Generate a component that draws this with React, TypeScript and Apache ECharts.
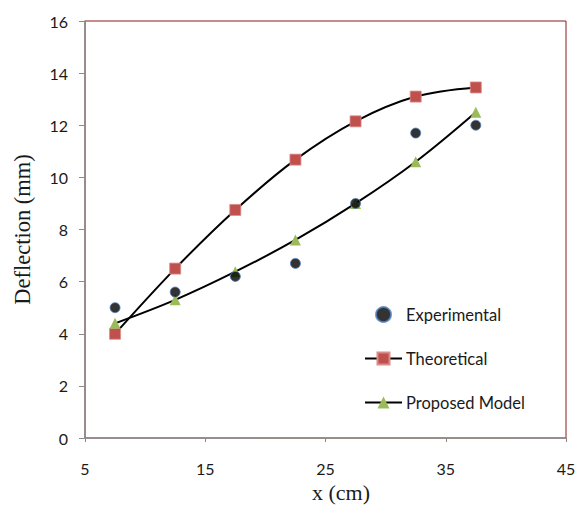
import React, { useEffect, useRef } from "react";
import * as echarts from "echarts";

const xValues = [7.5, 12.5, 17.5, 22.5, 27.5, 32.5, 37.5];
const experimental = [5.0, 5.6, 6.2, 6.7, 9.0, 11.7, 12.0];
const theoretical = [4.0, 6.5, 8.75, 10.68, 12.15, 13.1, 13.45];
const proposed = [4.4, 5.3, 6.38, 7.6, 9.0, 10.6, 12.5];

const pairs = (ys: number[]) => xValues.map((x, i) => [x, ys[i]]);

const serif = "'Liberation Serif', 'Times New Roman', serif";
const sans = "Lato, 'Open Sans', 'Noto Sans', sans-serif";

export default function App() {
  const ref = useRef<HTMLDivElement>(null);
  useEffect(() => {
    if (!ref.current) return;
    const chart = echarts.init(ref.current, undefined, { renderer: "svg" });
    chart.setOption({
      animation: false,
      backgroundColor: "#ffffff",
      grid: {
        left: 85,
        right: 21,
        top: 21,
        bottom: 68,
        show: true,
        borderColor: "#8b1a1a",
        borderWidth: 1,
        backgroundColor: "transparent",
      },
      legend: {
        orient: "vertical",
        left: 364,
        top: 306,
        padding: 0,
        itemWidth: 37,
        itemHeight: 15,
        itemGap: 27,
        textStyle: { fontFamily: sans, fontSize: 16.5, color: "#1a1a1a", padding: [0, 0, 0, -1] },
        data: ["Experimental", "Theoretical", "Proposed Model"],
      },
      xAxis: {
        type: "value",
        min: 5,
        max: 45,
        interval: 10,
        name: "x (cm)",
        nameLocation: "middle",
        nameGap: 43,
        nameTextStyle: { fontFamily: serif, fontSize: 22, color: "#1a1a1a", padding: [0, 0, 0, 31] },
        axisLine: { show: true, onZero: false, lineStyle: { color: "#8c8c8c", width: 1.5 } },
        axisTick: { show: true, length: 4, lineStyle: { color: "#8c8c8c" } },
        axisLabel: { fontFamily: sans, fontSize: 16, color: "#1a1a1a", margin: 22 },
        splitLine: { show: false },
      },
      yAxis: {
        type: "value",
        min: 0,
        max: 16,
        interval: 2,
        name: "Deflection (mm)",
        nameLocation: "middle",
        nameGap: 51,
        nameTextStyle: { fontFamily: serif, fontSize: 22.5, color: "#1a1a1a" },
        axisLine: { show: true, onZero: false, lineStyle: { color: "#8c8c8c", width: 1.5 } },
        axisTick: { show: true, inside: false, length: 6, lineStyle: { color: "#8c8c8c" } },
        axisLabel: { fontFamily: sans, fontSize: 16, color: "#1a1a1a", margin: 17 },
        splitLine: { show: false },
      },
      series: [
        {
          name: "Theoretical",
          type: "line",
          data: pairs(theoretical),
          smooth: 0.35,
          symbol: "rect",
          symbolSize: 11,
          lineStyle: { color: "#000000", width: 2 },
          itemStyle: { color: "#c0504d", borderColor: "#d98c8a", borderWidth: 0.8 },
          z: 2,
        },
        {
          name: "Proposed Model",
          type: "line",
          data: pairs(proposed),
          smooth: 0.35,
          symbol: "triangle",
          symbolSize: 11,
          lineStyle: { color: "#000000", width: 2 },
          itemStyle: { color: "#9bbb59" },
          z: 3,
        },
        {
          name: "Experimental",
          type: "scatter",
          data: pairs(experimental),
          symbol: "circle",
          symbolSize: 10,
          itemStyle: { color: "#000000", borderColor: "#4f81bd", borderWidth: 1 },
          z: 4,
        },
      ],
    });
    return () => chart.dispose();
  }, []);
  return (
    <div
      ref={ref}
      style={{ position: "absolute", left: 0, top: 0, width: 587, height: 508 }}
    />
  );
}
